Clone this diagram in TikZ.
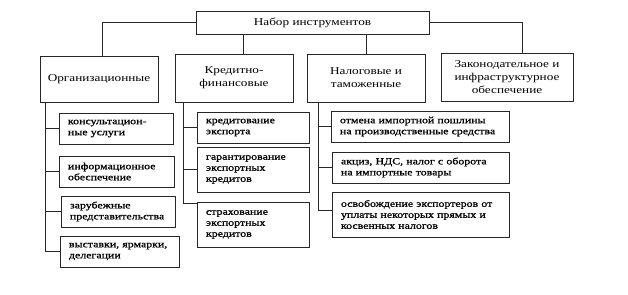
\documentclass[tikz,border=0pt]{standalone}
\usepackage{fontspec}
\setmainfont{Liberation Serif}
\newfontfamily\headfont[FakeStretch=1.26]{Liberation Serif}
\newfontfamily\itemfont[FakeStretch=1.25,FakeBold=1]{Liberation Serif}
\usetikzlibrary{calc}
\tikzset{
  ln/.style={draw=black!85, line width=0.9pt},
  head/.style={ln, align=center, inner sep=0pt, font=\headfont\fontsize{10.5}{13}\selectfont},
  item/.style={ln, align=left, inner xsep=9pt, inner ysep=0pt, font=\itemfont\fontsize{9.5}{11}\selectfont},
  conn/.style={draw=black!85, line width=0.9pt}
}
\begin{document}
\begin{tikzpicture}[x=1pt,y=-1pt]
\useasboundingbox (0,0) rectangle (628,294);
% top
\node[head, minimum width=233pt, minimum height=23pt] (top) at (312.5,22.5) {Набор инструментов};
% categories
\node[head, minimum width=118pt, minimum height=46pt] (org) at (99,79) {Организационные};
\node[head, minimum width=118pt, minimum height=48pt] (cred) at (234,78) {Кредитно-\\финансовые};
\node[head, minimum width=118pt, minimum height=48pt] (tax) at (366,78) {Налоговые и\\таможенные};
\node[head, minimum width=132pt, minimum height=48pt] (law) at (507,77) {Законодательное и\\инфраструктурное\\обеспечение};
% org children
\node[item, text width=96pt, minimum height=31pt] (o1) at (116,128.5) {консультацион-\\ные услуги};
\node[item, text width=97pt, minimum height=31pt] (o2) at (116.5,171.5) {информационное\\обеспечение};
\node[item, text width=96pt, minimum height=31pt] (o3) at (118,211.5) {зарубежные\\представительства};
\node[item, text width=101pt, minimum height=31pt] (o4) at (119.5,251.5) {выставки, ярмарки,\\делегации};
% credit children
\node[item, text width=94pt, minimum height=31pt] (c1) at (253,127.5) {кредитование\\экспорта};
\node[item, text width=94pt, minimum height=45pt] (c2) at (253,169.5) {гарантирование\\экспортных\\кредитов};
\node[item, text width=94pt, minimum height=45pt] (c3) at (253,224.5) {страхование\\экспортных\\кредитов};
% tax children
\node[item, text width=160pt, minimum height=31pt] (t1) at (420,126.5) {отмена импортной пошлины\\на производственные средства};
\node[item, text width=159pt, minimum height=31pt] (t2) at (420.5,167.5) {акциз, НДС, налог с оборота\\на импортные товары};
\node[item, text width=159pt, minimum height=45pt] (t3) at (420.5,214.5) {освобождение экспортеров от\\уплаты некоторых прямых и\\косвенных налогов};
% top connectors
\draw[conn] (top.west) -| ($(org.north)+(3,0)$);
\draw[conn] ($(top.south)+(-69.5,0)$) -- ($(cred.north)+(9,0)$);
\draw[conn] (top.south -| tax.north) -- (tax.north);
\draw[conn] (top.east) -| ($(law.north)+(15,0)$);
% org trunk
\coordinate (ob) at ($(org.south west)+(6,0)$);
\draw[conn] (ob) |- (o1.west);
\draw[conn] (ob) |- (o2.west);
\draw[conn] (ob) |- (o3.west);
\draw[conn] (ob) |- (o4.west);
% credit trunk
\coordinate (cb) at ($(cred.south west)+(9,0)$);
\draw[conn] (cb) |- (c1.west);
\draw[conn] (cb) |- (c2.west);
\draw[conn] (cb) |- ($(c3.north west)+(0,2)$);
% tax trunk
\coordinate (tb) at ($(tax.south west)+(12,0)$);
\draw[conn] (tb) |- (t1.west);
\draw[conn] (tb) |- (t2.west);
\draw[conn] (tb) |- ($(t3.west)+(0,-4.5)$);
\end{tikzpicture}
\end{document}
